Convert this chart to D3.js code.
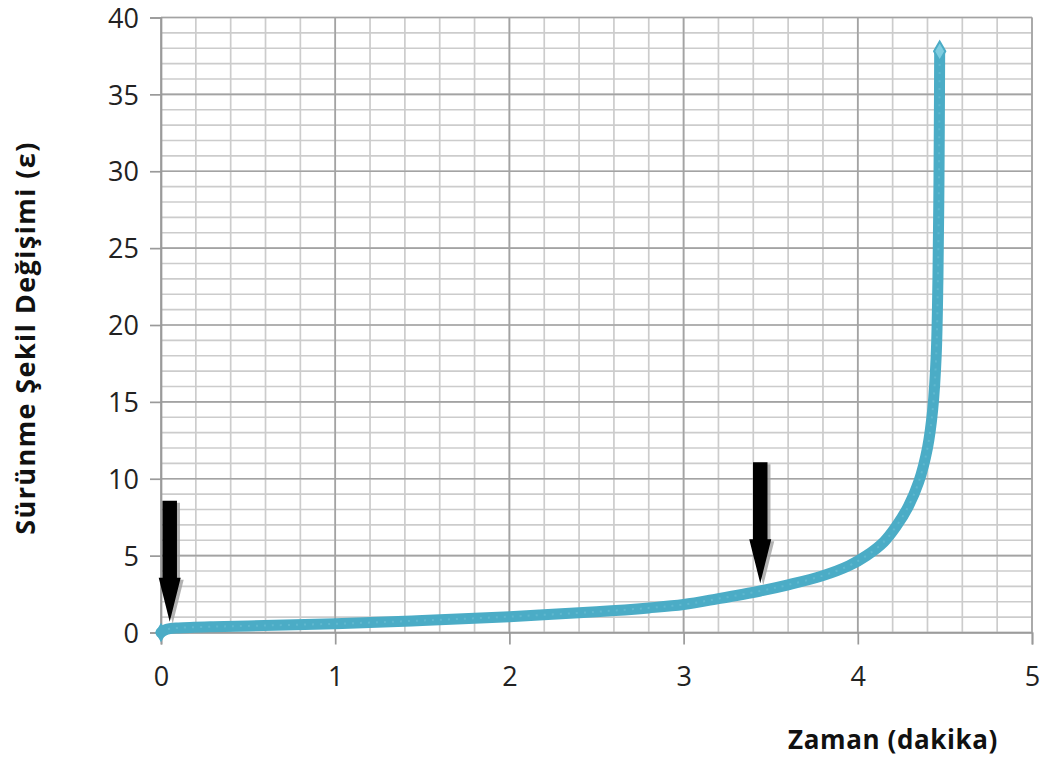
<!DOCTYPE html>
<html>
<head>
<meta charset="utf-8">
<script src="https://cdn.jsdelivr.net/npm/d3@7"></script>
<style>
  html, body { margin: 0; padding: 0; background: #fff; }
  svg { display: block; }
</style>
</head>
<body>
<svg id="chart" width="1044" height="758"></svg>
<script>
// ---- data ----
const timeMin = [0, 0.02, 0.05, 0.1, 0.3, 0.5, 1.0, 1.5, 2.0, 2.5, 2.8, 3.0, 3.2, 3.44, 3.6, 3.8, 3.95, 4.05, 4.15, 4.22, 4.29, 4.35, 4.4, 4.43, 4.45, 4.46, 4.465, 4.468, 4.47];
const strain  = [0, 0.15, 0.25, 0.3, 0.38, 0.43, 0.57, 0.78, 1.03, 1.35, 1.6, 1.82, 2.2, 2.7, 3.1, 3.7, 4.35, 5.0, 5.9, 6.9, 8.2, 9.8, 12.0, 14.5, 18.0, 23.0, 28.0, 33.0, 37.8];
const xTicks = [0, 1, 2, 3, 4, 5];
const yTicks = [0, 5, 10, 15, 20, 25, 30, 35, 40];
const arrowTipsX = [0.05, 3.44];
const arrowTipsY = [0.7, 3.2];
const xTitle = "Zaman (dakika)";
const yTitle = "Sürünme Şekil Değişimi (ε)";

// ---- layout ----
const svg = d3.select("#chart");
const x = d3.scaleLinear().domain([0, 5]).range([161, 1032]);
const y = d3.scaleLinear().domain([0, 40]).range([632.5, 17.5]);

const grid = svg.append("g");
// minor grid
d3.range(0, 5.001, 0.2).forEach(v => {
  grid.append("line").attr("x1", x(v)).attr("x2", x(v)).attr("y1", y(0)).attr("y2", y(40))
    .attr("stroke", "#cccccc").attr("stroke-width", 1.7);
});
d3.range(0, 40.001, 1).forEach(v => {
  grid.append("line").attr("x1", x(0)).attr("x2", x(5)).attr("y1", y(v)).attr("y2", y(v))
    .attr("stroke", "#cccccc").attr("stroke-width", 1.7);
});
// major grid
xTicks.forEach(v => {
  grid.append("line").attr("x1", x(v)).attr("x2", x(v)).attr("y1", y(0)).attr("y2", y(40))
    .attr("stroke", "#a3a3a3").attr("stroke-width", 1.7);
});
yTicks.forEach(v => {
  grid.append("line").attr("x1", x(0)).attr("x2", x(5)).attr("y1", y(v)).attr("y2", y(v))
    .attr("stroke", "#a3a3a3").attr("stroke-width", 1.7);
});

// axes
const xAxis = d3.axisBottom(x).tickValues(xTicks).tickSize(12).tickPadding(28).tickFormat(d3.format("d"));
const yAxis = d3.axisLeft(y).tickValues(yTicks).tickSize(11).tickPadding(11).tickFormat(d3.format("d"));
const gx = svg.append("g").attr("transform", `translate(0,${y(0)})`).call(xAxis);
const gy = svg.append("g").attr("transform", `translate(${x(0)},0)`).call(yAxis);
[gx, gy].forEach(g => {
  g.select(".domain").attr("stroke", "#9a9a9a").attr("stroke-width", 1.7);
  g.selectAll(".tick line").attr("stroke", "#9a9a9a").attr("stroke-width", 1.7);
  g.selectAll(".tick text").attr("fill", "#222").style("font-family", "'Open Sans', sans-serif").style("font-size", "27px");
});
gx.selectAll(".tick text").attr("dy", "0.5em");
gy.selectAll(".tick text").attr("dy", "0.36em");

// curve
const pts = timeMin.map((t, i) => [t, strain[i]]);
const line = d3.line().x(d => x(d[0])).y(d => y(d[1])).curve(d3.curveCatmullRom.alpha(0.5));
svg.append("path").attr("d", line(pts)).attr("fill", "none")
  .attr("stroke", "#4bacc6").attr("stroke-width", 11).attr("stroke-linecap", "round").attr("stroke-linejoin", "round");
svg.append("path").attr("d", line(pts)).attr("fill", "none")
  .attr("stroke", "#6cc0d6").attr("stroke-width", 2).attr("stroke-dasharray", "2 6").attr("opacity", 0.6);
// end markers
svg.append("path").attr("d", d3.symbol(d3.symbolDiamond, 110)())
  .attr("transform", `translate(${x(timeMin[timeMin.length-1])},${y(strain[strain.length-1])})`)
  .attr("fill", "#7fcde0").attr("stroke", "#4bacc6").attr("stroke-width", 2);
svg.append("path").attr("d", d3.symbol(d3.symbolDiamond, 110)())
  .attr("transform", `translate(${x(0)},${y(0)})`)
  .attr("fill", "#4bacc6");

// arrows
const shaftLen = 77, shaftW = 14.5, headLen = 44, headW = 22;
arrowTipsX.forEach((tx, i) => {
  const px = x(tx), py = y(arrowTipsY[i]);
  const p = [
    [px - shaftW/2, py - headLen - shaftLen],
    [px + shaftW/2, py - headLen - shaftLen],
    [px + shaftW/2, py - headLen],
    [px + headW/2, py - headLen],
    [px, py],
    [px - headW/2, py - headLen],
    [px - shaftW/2, py - headLen]
  ];
  const ps = p.map(q => q.join(",")).join(" ");
  svg.append("polygon").attr("points", ps).attr("fill", "#a0a0a0").attr("opacity", 0.8)
    .attr("transform", "translate(3,2)");
  svg.append("polygon").attr("points", ps).attr("fill", "#000");
});

// titles
svg.append("text").attr("x", 893).attr("y", 749).attr("text-anchor", "middle")
  .style("font-family", "'Open Sans', sans-serif").style("font-weight", "bold").style("font-size", "26px")
  .style("letter-spacing", "0.6px")
  .attr("fill", "#111").text(xTitle);
svg.append("text").attr("transform", "translate(35,338) rotate(-90)").attr("text-anchor", "middle")
  .style("font-family", "'Open Sans', sans-serif").style("font-weight", "bold").style("font-size", "27px")
  .style("letter-spacing", "1.4px")
  .attr("fill", "#111").text(yTitle);
</script>
</body>
</html>
